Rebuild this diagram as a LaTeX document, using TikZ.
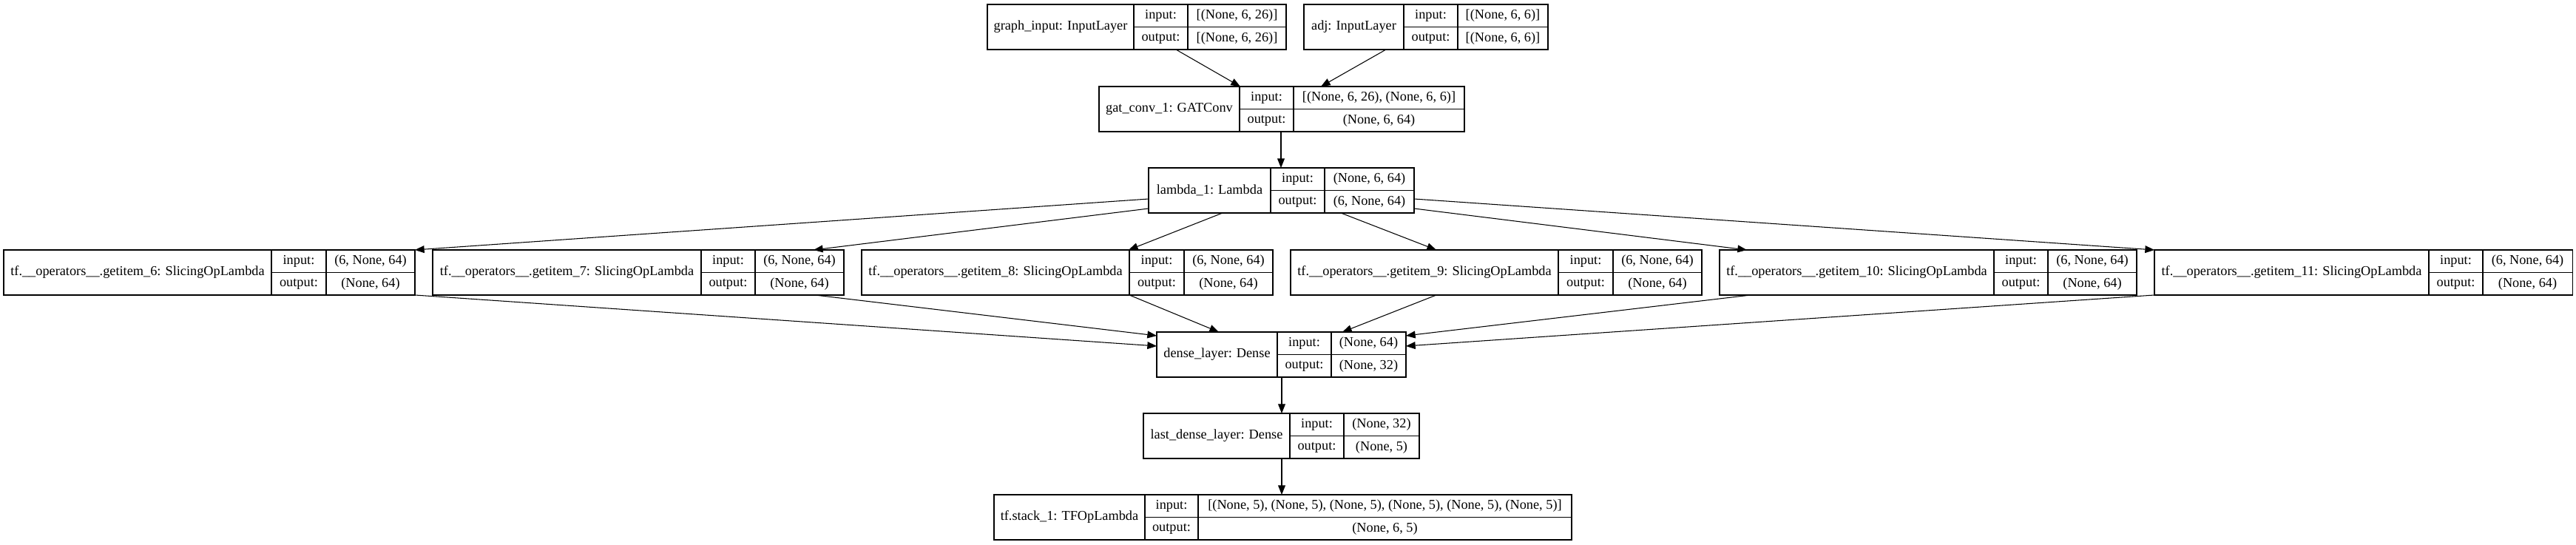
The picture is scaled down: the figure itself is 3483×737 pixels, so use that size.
\documentclass[tikz,border=0pt]{standalone}
\usepackage{fontspec}
\setmainfont{Liberation Serif}
\usetikzlibrary{calc,fit,arrows.meta}

\tikzset{
  layer/.style={inner sep=0pt, outer sep=0pt},
  cell/.style={line width=0.3pt},
  txt/.style={inner sep=0pt, font=\fontsize{5.2}{6}\selectfont},
  edge/.style={line width=0.3pt, -{Triangle[length=3.6pt,width=2.8pt]}}
}

% one layer box: id, x left, x label, x value, x right, y top, name, input, output
\newcommand{\layerbox}[9]{%
  \node[layer, fit={(#2,#6) (#5,#6+61)}] (#1) {};
  \draw[cell] (#2,#6) rectangle (#5,#6+61);
  \draw[cell] (#3,#6) -- (#3,#6+61) (#4,#6) -- (#4,#6+61) (#3,#6+30.5) -- (#5,#6+30.5);
  \node[txt] (#1-n) at ({(#2+#3)/2},{#6+30.5}) {#7};
  \node[txt] (#1-i) at ({(#3+#4)/2},{#6+15.5}) {input:};
  \node[txt] (#1-o) at ({(#3+#4)/2},{#6+46}) {output:};
  \node[txt] (#1-iv) at ({(#4+#5)/2},{#6+15.5}) {#8};
  \node[txt] (#1-ov) at ({(#4+#5)/2},{#6+46}) {#9};
}

\begin{document}
\begin{tikzpicture}[x=0.01cm, y=-0.01cm]
    \useasboundingbox[fill=white] (0,0) rectangle (3483,737);

    % Inputs and graph convolution
    \layerbox{gin}{1335}{1533}{1606}{1739}{6}{graph\_input: InputLayer}{[(None, 6, 26)]}{[(None, 6, 26)]}
    \layerbox{adj}{1763}{1898}{1971}{2093}{6}{adj: InputLayer}{[(None, 6, 6)]}{[(None, 6, 6)]}
    \layerbox{gat}{1486}{1676}{1749}{1980}{117}{gat\_conv\_1: GATConv}{[(None, 6, 26), (None, 6, 6)]}{(None, 6, 64)}
    \layerbox{lam}{1553}{1718}{1791}{1912}{227}{lambda\_1: Lambda}{(None, 6, 64)}{(6, None, 64)}

    % Slicing layers
    \layerbox{g6}{5}{367}{441}{561}{338}{tf.\_\_operators\_\_.getitem\_6: SlicingOpLambda}{(6, None, 64)}{(None, 64)}
    \layerbox{g7}{585}{948}{1021}{1141}{338}{tf.\_\_operators\_\_.getitem\_7: SlicingOpLambda}{(6, None, 64)}{(None, 64)}
    \layerbox{g8}{1165}{1527}{1601}{1721}{338}{tf.\_\_operators\_\_.getitem\_8: SlicingOpLambda}{(6, None, 64)}{(None, 64)}
    \layerbox{g9}{1745}{2107}{2181}{2301}{338}{tf.\_\_operators\_\_.getitem\_9: SlicingOpLambda}{(6, None, 64)}{(None, 64)}
    \layerbox{g10}{2325}{2696}{2769}{2889}{338}{tf.\_\_operators\_\_.getitem\_10: SlicingOpLambda}{(6, None, 64)}{(None, 64)}
    \layerbox{g11}{2913}{3284}{3357}{3478}{338}{tf.\_\_operators\_\_.getitem\_11: SlicingOpLambda}{(6, None, 64)}{(None, 64)}

    % Dense head
    \layerbox{dense}{1564}{1727}{1800}{1901}{449}{dense\_layer: Dense}{(None, 64)}{(None, 32)}
    \layerbox{last}{1546}{1744}{1817}{1919}{559}{last\_dense\_layer: Dense}{(None, 32)}{(None, 5)}
    \layerbox{stack}{1344}{1548}{1620}{2125}{669}{tf.stack\_1: TFOpLambda}{[(None, 5), (None, 5), (None, 5), (None, 5), (None, 5), (None, 5)]}{(None, 6, 5)}

    % Edges
    \draw[edge] ($(gin.south west)+(255,0)$) -- ($(gat.north west)+(191,0)$);
    \draw[edge] ($(adj.south west)+(111,0)$) -- ($(gat.north west)+(300,0)$);
    \draw[edge] ($(gat.south west)+(246,0)$) -- ($(lam.north west)+(179,0)$);

    \draw[edge] ($(lam.north west)+(0,42)$) -- (g6.north east);
    \draw[edge] ($(lam.north west)+(0,55)$) -- ($(g7.north west)+(515,0)$);
    \draw[edge] ($(lam.south west)+(100,0)$) -- ($(g8.north west)+(361,0)$);
    \draw[edge] ($(lam.south west)+(260,0)$) -- ($(g9.north west)+(197,0)$);
    \draw[edge] ($(lam.north east)+(0,55)$) -- ($(g10.north west)+(37,0)$);
    \draw[edge] ($(lam.north east)+(0,42)$) -- (g11.north west);

    \draw[edge] (g6.south east) -- ($(dense.north west)+(0,19)$);
    \draw[edge] ($(g7.south west)+(517,0)$) -- ($(dense.north west)+(0,5)$);
    \draw[edge] ($(g8.south west)+(362,0)$) -- ($(dense.north west)+(84,0)$);
    \draw[edge] ($(g9.south west)+(197,0)$) -- ($(dense.north west)+(251,0)$);
    \draw[edge] ($(g10.south west)+(42,0)$) -- ($(dense.north east)+(0,5)$);
    \draw[edge] (g11.south west) -- ($(dense.north east)+(0,19)$);

    \draw[edge] ($(dense.south west)+(169,0)$) -- ($(last.north west)+(187,0)$);
    \draw[edge] ($(last.south west)+(187,0)$) -- ($(stack.north west)+(389,0)$);
\end{tikzpicture}
\end{document}
